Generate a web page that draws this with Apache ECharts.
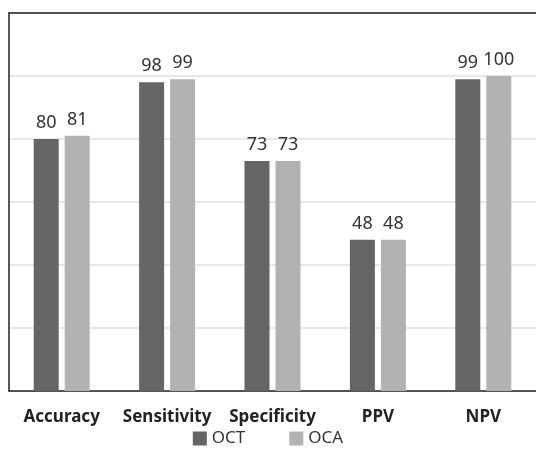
<!DOCTYPE html>
<html>
<head>
<meta charset="utf-8">
<script src="https://cdn.jsdelivr.net/npm/echarts@6/dist/echarts.min.js"></script>
<style>
  html, body { margin: 0; padding: 0; background: #fff; }
  #main { width: 536px; height: 450px; }
</style>
</head>
<body>
<div id="main"></div>
<script>
    var categories = ['Accuracy', 'Sensitivity', 'Specificity', 'PPV', 'NPV'];
    var octValues = [80, 98, 73, 48, 99];
    var ocaValues = [81, 99, 73, 48, 100];

    var myChart = echarts.init(document.getElementById('main'));

    var labelStyle = {
        show: true,
        position: 'top',
        distance: 7,
        fontFamily: 'Noto Sans',
        fontSize: 18,
        color: '#333'
    };

    var option = {
        animation: false,
        textStyle: { fontFamily: 'Noto Sans' },
        legend: {
            data: ['OCT', 'OCA'],
            bottom: -2,
            left: 'center',
            itemWidth: 14,
            itemHeight: 14,
            itemGap: 44,
            icon: 'rect',
            textStyle: { fontSize: 17, color: '#333' }
        },
        grid: {
            left: 9,
            right: 0,
            top: 13,
            bottom: 59
        },
        xAxis: [{
            type: 'category',
            data: categories,
            axisLine: { lineStyle: { color: '#222', width: 1.5 } },
            axisTick: { show: false },
            axisLabel: {
                interval: 0,
                fontSize: 17,
                fontWeight: 'bold',
                color: '#222',
                margin: 18
            }
        }, {
            type: 'category',
            position: 'top',
            data: categories,
            axisLine: { lineStyle: { color: '#222', width: 1.5 } },
            axisTick: { show: false },
            axisLabel: { show: false }
        }],
        yAxis: {
            type: 'value',
            min: 0,
            max: 120,
            interval: 20,
            axisLine: { show: true, lineStyle: { color: '#222', width: 1.5 } },
            axisTick: { show: false },
            axisLabel: { show: false },
            splitLine: { lineStyle: { color: '#e0e0e0', width: 1.5 } }
        },
        series: [{
                name: 'OCT',
                type: 'bar',
                data: octValues,
                barWidth: 25,
                barGap: '24%',
                itemStyle: { color: '#646567' },
                label: labelStyle
            },
            {
                name: 'OCA',
                type: 'bar',
                data: ocaValues,
                barWidth: 25,
                itemStyle: { color: '#b0b2b4' },
                label: labelStyle
            }
        ]
    };

    myChart.setOption(option);
</script>
</body>
</html>
